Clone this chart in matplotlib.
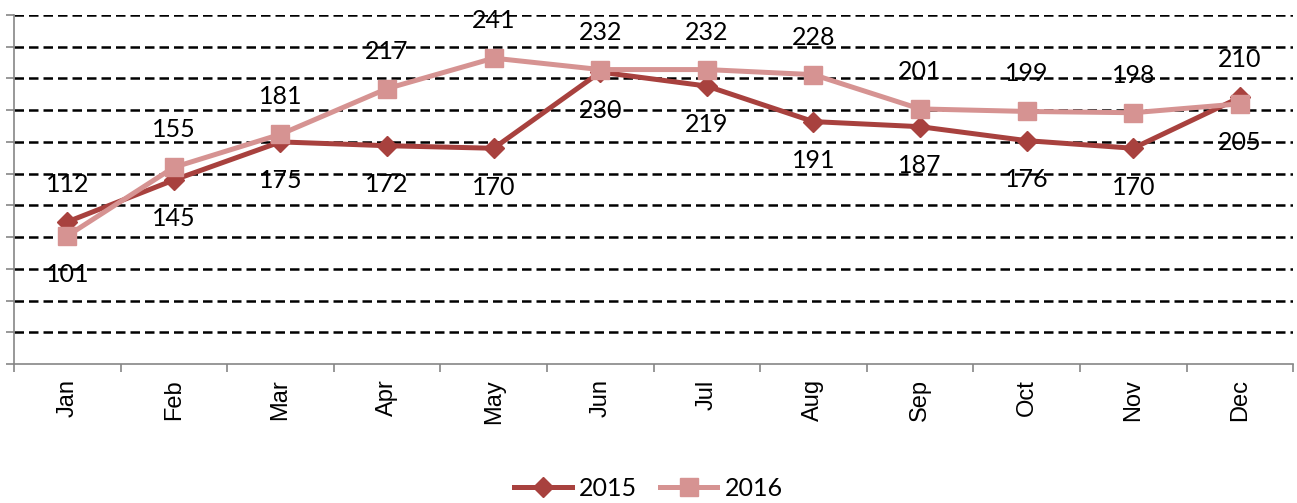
import numpy as np
import matplotlib.pyplot as plt
from matplotlib.ticker import MultipleLocator

plt.rcParams['font.family'] = ['Lato', 'DejaVu Sans']

months = ['Jan', 'Feb', 'Mar', 'Apr', 'May', 'Jun', 'Jul', 'Aug', 'Sep', 'Oct', 'Nov', 'Dec']
sales_2015 = [112, 145, 175, 172, 170, 230, 219, 191, 187, 176, 170, 210]
sales_2016 = [101, 155, 181, 217, 241, 232, 232, 228, 201, 199, 198, 205]

c2015 = '#A8413E'
c2016 = '#D69392'

fig = plt.figure(figsize=(12.97, 5.03), dpi=100)
ax = fig.add_axes([0.0108, 0.2763, 0.9862, 0.6939])

x = np.arange(len(months))

# dashed horizontal gridlines
for yv in range(25, 276, 25):
    ax.axhline(yv, color='black', lw=1.8, linestyle=(0, (3.8, 2.0)), zorder=1)

ax.plot(x, sales_2015, color=c2015, lw=3.6, marker='D', ms=10, label='2015', zorder=3)
ax.plot(x, sales_2016, color=c2016, lw=3.6, marker='s', ms=13, label='2016', zorder=4)

# labels: higher value of the pair goes above, lower one below
for i in range(len(months)):
    a, b = sales_2015[i], sales_2016[i]
    for v, up in ((a, a >= b), (b, b > a)):
        ax.annotate(str(v), (x[i], v), xytext=(0, 27 if up else -28),
                    textcoords='offset points', ha='center', va='center',
                    fontsize=18, color='black', zorder=5)

ax.set_xlim(-0.5, 11.5)
ax.set_ylim(0, 275)
ax.set_xticks(x)
ax.set_xticklabels(months, rotation=90)
for lbl in ax.get_xticklabels():
    lbl.set_fontfamily('Liberation Sans')
    lbl.set_fontsize(17)
ax.set_xticks(np.arange(-0.5, 12, 1), minor=True)
ax.tick_params(axis='x', which='major', length=0, pad=11)
ax.tick_params(axis='x', which='minor', length=6, color='#868686', width=1.2)
ax.yaxis.set_major_locator(MultipleLocator(25))
ax.tick_params(axis='y', length=6, color='#868686', width=1.2, labelleft=False)

for s in ['top', 'right']:
    ax.spines[s].set_visible(False)
for s in ['left', 'bottom']:
    ax.spines[s].set_color('#868686')
    ax.spines[s].set_linewidth(1.2)

fig.legend(loc='lower center', bbox_to_anchor=(0.5, -0.038), ncol=2, frameon=False,
           fontsize=18, handlelength=2.3, handletextpad=0.3, columnspacing=0.9)

fig.savefig('out.png', dpi=100)
